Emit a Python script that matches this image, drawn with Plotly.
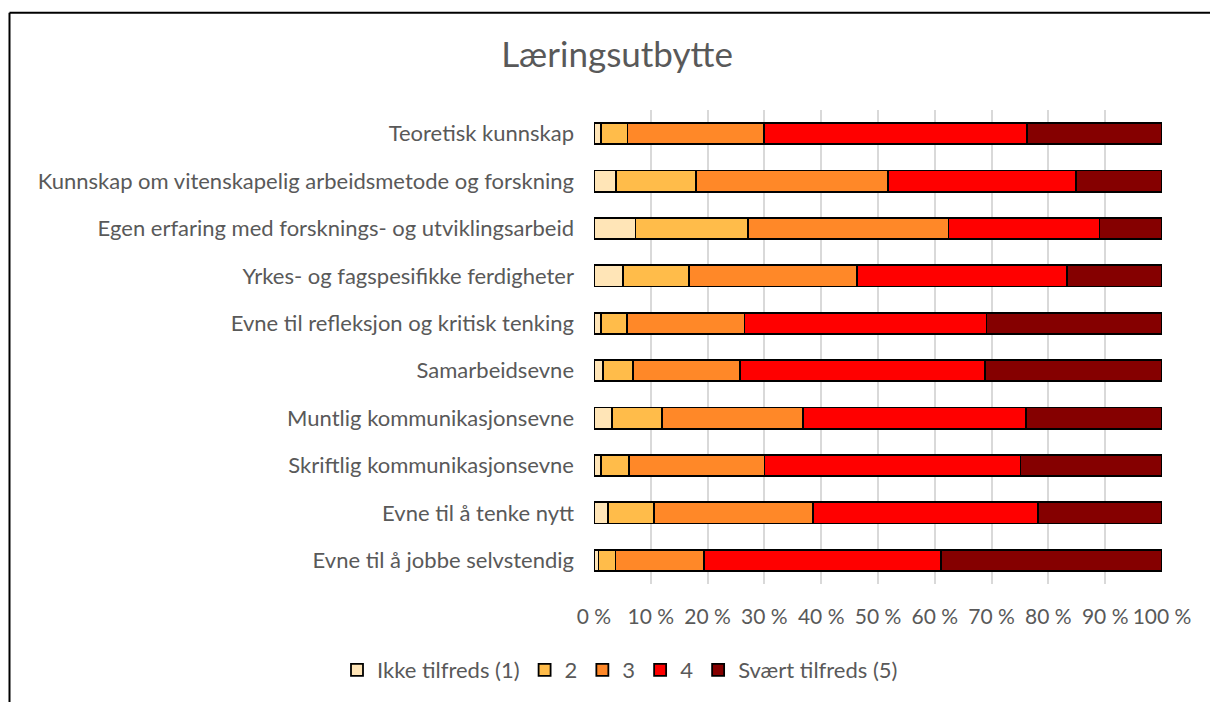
import plotly.graph_objects as go

categories = [
    "Teoretisk kunnskap",
    "Kunnskap om vitenskapelig arbeidsmetode og forskning",
    "Egen erfaring med forsknings- og utviklingsarbeid",
    "Yrkes- og fagspesifikke ferdigheter",
    "Evne til refleksjon og kritisk tenking",
    "Samarbeidsevne",
    "Muntlig kommunikasjonsevne",
    "Skriftlig kommunikasjonsevne",
    "Evne til å tenke nytt",
    "Evne til å jobbe selvstendig",
]

series_names = ["Ikke tilfreds (1)", "2", "3", "4", "Svært tilfreds (5)"]

s1 = [1.3, 3.9, 7.3, 5.1, 1.2, 1.6, 3.1, 1.3, 2.5, 0.8]
s2 = [4.6, 14.1, 19.8, 11.6, 4.6, 5.2, 8.9, 4.9, 8.1, 3.0]
s3 = [24.0, 33.7, 35.3, 29.6, 20.7, 18.9, 24.8, 23.8, 28.0, 15.5]
s4 = [46.3, 33.1, 26.6, 37.0, 42.6, 43.2, 39.3, 45.1, 39.6, 41.8]
s5 = [23.8, 15.2, 11.0, 16.7, 30.9, 31.1, 23.9, 24.9, 21.8, 38.9]

colors = ["#FFE5B7", "#FFBC4A", "#FF8828", "#FF0000", "#850000"]

tick_vals = [0, 10, 20, 30, 40, 50, 60, 70, 80, 90, 100]
tick_text = ["0 %", "10 %", "20 %", "30 %", "40 %", "50 %", "60 %", "70 %", "80 %", "90 %", "100 %"]

W, H = 1210, 702
L, R, T, B = 594, 48, 110, 117
PW, PH = W - L - R, H - T - B

FONT = "Lato, Carlito, Calibri, sans-serif"
GREY = "#595959"
FS = 22

fig = go.Figure()
for name, vals, col in zip(series_names, [s1, s2, s3, s4, s5], colors):
    fig.add_trace(go.Bar(
        y=categories, x=vals, name=name, orientation="h",
        marker=dict(color=col, line=dict(color="#000000", width=1.8)),
    ))


def px(x):
    return (x - L) / PW


def py(y):
    return 1 - (y - T) / PH


fig.update_layout(
    width=W, height=H,
    barmode="stack",
    bargap=0.55,
    plot_bgcolor="white",
    paper_bgcolor="white",
    margin=dict(l=L, r=R, t=T, b=B, pad=0),
    font=dict(family=FONT, color=GREY, size=FS),
    title=dict(text="Læringsutbytte", xref="container", x=617 / W, xanchor="center",
               yref="container", y=1 - 55 / H, yanchor="middle",
               font=dict(family=FONT, size=35, color=GREY)),
    xaxis=dict(range=[0, 100], tickvals=tick_vals, ticktext=tick_text,
               tickangle=0,
               showgrid=True, gridcolor="#D9D9D9", gridwidth=1.5,
               zeroline=False, showline=False, ticks="",
               ticklabelstandoff=18, tickfont=dict(size=21, color=GREY)),
    yaxis=dict(autorange="reversed", showgrid=False, zeroline=False, showline=False,
               ticks="", ticklabelstandoff=19, tickfont=dict(size=FS, color=GREY)),
    legend=dict(orientation="h", x=px(620), xanchor="center", y=py(670), yanchor="middle",
                font=dict(size=FS, color=GREY), traceorder="normal",
                itemwidth=30, tracegroupgap=0),
    showlegend=True,
    shapes=[
        dict(type="line", xref="paper", yref="paper", x0=px(9.5), x1=px(1220), y0=py(12.5), y1=py(12.5),
             line=dict(color="#000000", width=2)),
        dict(type="line", xref="paper", yref="paper", x0=px(9.5), x1=px(9.5), y0=py(12.5), y1=py(720),
             line=dict(color="#000000", width=2)),
    ],
)

fig.write_html("out.html", config={"displayModeBar": False},
               post_script="document.body.style.margin='0';document.body.style.overflow='hidden';")
